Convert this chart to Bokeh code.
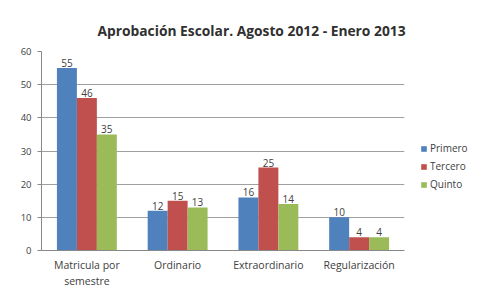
from bokeh.plotting import figure
from bokeh.models import ColumnDataSource, Legend, LegendItem, FixedTicker, Title
from bokeh.transform import dodge
from bokeh.core.properties import value
from bokeh.embed import file_html
from bokeh.resources import INLINE

categories = ["Matricula por\nsemestre", "Ordinario", "Extraordinario", "Regularización"]
primero = [55, 12, 16, 10]
tercero = [46, 15, 25, 4]
quinto = [35, 13, 14, 4]
series_names = ["Primero", "Tercero", "Quinto"]
colors = ["#4F81BD", "#C0504D", "#9BBB59"]
y_ticks = [0, 10, 20, 30, 40, 50, 60]

FONT = "Open Sans"

src = ColumnDataSource(dict(cat=categories, Primero=primero, Tercero=tercero, Quinto=quinto,
                            lp=[str(v) for v in primero], lt=[str(v) for v in tercero],
                            lq=[str(v) for v in quinto]))

p = figure(x_range=categories, y_range=(0, 60), output_backend="svg", toolbar_location=None,
           frame_width=363, frame_height=199, min_border_left=41, min_border_top=51,
           min_border_bottom=0, min_border_right=0)
p.outline_line_color = None
p.background_fill_color = "white"

offsets = [-0.22, 0.0, 0.22]
label_cols = ["lp", "lt", "lq"]
renderers = []
for name, col, off, lc in zip(series_names, colors, offsets, label_cols):
    r = p.vbar(x=dodge("cat", off, range=p.x_range), top=name, width=0.22, source=src,
               fill_color=col, line_color=None)
    renderers.append(r)
    p.text(x=dodge("cat", off, range=p.x_range), y=name, text=lc, source=src,
           text_align="center", text_baseline="bottom", y_offset=-1,
           text_font=value(FONT), text_font_size="10px", text_color="#404040")

legend = Legend(items=[LegendItem(label=n, renderers=[r]) for n, r in zip(series_names, renderers)],
                location=(16, 59), orientation="vertical", spacing=4,
                glyph_width=7, glyph_height=7, label_text_font=FONT, label_text_font_size="10px",
                label_text_color="#404040", label_standoff=3, border_line_color=None,
                background_fill_alpha=0, padding=0, margin=0, label_height=14)
p.add_layout(legend, "right")

p.add_layout(Title(text="Aprobación Escolar. Agosto 2012 - Enero 2013", align="left", offset=56,
                   text_font=FONT, text_font_size="13.8px", text_font_style="bold",
                   text_color="#303030", standoff=24), "above")

p.yaxis.ticker = FixedTicker(ticks=y_ticks)
p.yaxis.axis_line_color = "#888888"
p.yaxis.major_tick_line_color = "#888888"
p.yaxis.major_tick_out = 4
p.yaxis.major_tick_in = 0
p.yaxis.minor_tick_line_color = None
p.yaxis.major_label_text_font = FONT
p.yaxis.major_label_text_font_size = "9.5px"
p.yaxis.major_label_text_color = "#404040"
p.yaxis.major_label_standoff = 6

p.xaxis.axis_line_color = "#888888"
p.xaxis.major_tick_line_color = None
p.xaxis.major_label_text_font = FONT
p.xaxis.major_label_text_font_size = "10.5px"
p.xaxis.major_label_text_color = "#404040"
p.xaxis.major_label_standoff = 1

p.xgrid.grid_line_color = None
p.ygrid.grid_line_color = "#a0a0a0"
p.ygrid.ticker = FixedTicker(ticks=y_ticks)

open("out.html", "w").write(file_html(p, INLINE))
